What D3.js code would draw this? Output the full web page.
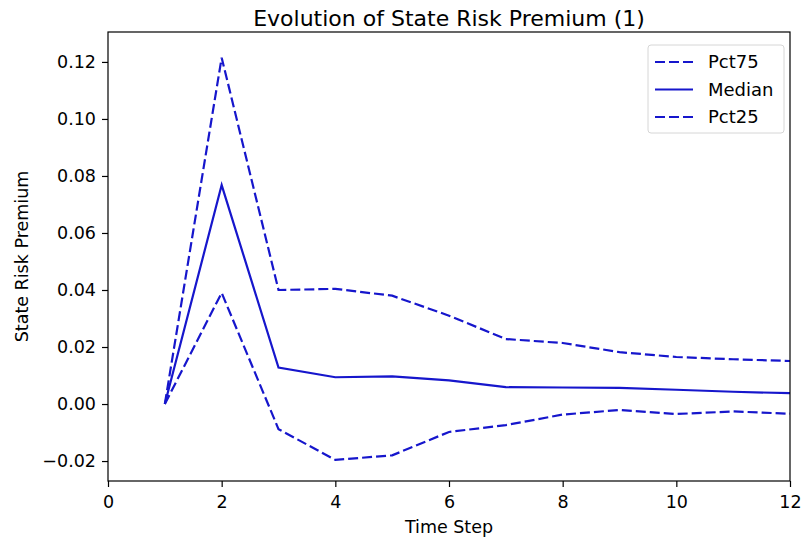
<!DOCTYPE html>
<html>
<head>
  <meta charset="utf-8">
  <title>State Risk Premium</title>
  <style type="text/css">
    body { margin: 0; background: #fff; }
    svg { font-family: "DejaVu Sans", sans-serif; }
  </style>
</head>
<body>
<div id="chart"></div>
<script src="https://d3js.org/d3.v7.min.js"></script>
<script type="text/javascript">
var steps = [1, 2, 3, 4, 5, 6, 7, 8, 9, 10, 11, 12];
var pct75 = [0, 0.1215, 0.040, 0.0404, 0.038, 0.031, 0.0228, 0.0214, 0.0182, 0.0165, 0.0157, 0.0151];
var median = [0, 0.0768, 0.0128, 0.0094, 0.0097, 0.0083, 0.0059, 0.0058, 0.0057, 0.0050, 0.0043, 0.0038];
var pct25 = [0, 0.039, -0.0088, -0.0196, -0.018, -0.0098, -0.0074, -0.0037, -0.0021, -0.0035, -0.0026, -0.0034];
var xTicks = [0, 2, 4, 6, 8, 10, 12];
var yTicks = [-0.02, 0.00, 0.02, 0.04, 0.06, 0.08, 0.10, 0.12];

var width = 801, height = 541;
var margin = {top: 32, right: 11, bottom: 60, left: 108};
var color = "#1616cc";

var svg = d3.select("#chart")
  .append("svg")
    .attr("width", width)
    .attr("height", height);

var x = d3.scaleLinear().domain([0, 12]).range([margin.left, width - margin.right]);
var y = d3.scaleLinear().domain([-0.027, 0.1305]).range([height - margin.bottom, margin.top]);

var series = [
  {name: "Pct75", values: pct75, dash: "10,4"},
  {name: "Median", values: median, dash: null},
  {name: "Pct25", values: pct25, dash: "10,4"}
];

var line = d3.line()
  .x(function (d, i) { return x(steps[i]); })
  .y(function (d) { return y(d); });

svg.append("g")
  .selectAll("path")
  .data(series)
  .enter()
  .append("path")
    .attr("d", function (d) { return line(d.values); })
    .attr("fill", "none")
    .attr("stroke", color)
    .attr("stroke-width", 2.2)
    .attr("stroke-dasharray", function (d) { return d.dash; });

// axes
var xAxis = svg.append("g")
  .attr("transform", "translate(0," + (height - margin.bottom) + ")")
  .call(d3.axisBottom(x).tickValues(xTicks).tickSize(6).tickPadding(9).tickFormat(d3.format("d")));
var yAxis = svg.append("g")
  .attr("transform", "translate(" + margin.left + ",0)")
  .call(d3.axisLeft(y).tickValues(yTicks).tickSize(6).tickPadding(6).tickFormat(function (d) {
    return d3.format(".2f")(d).replace("-", "\u2212");
  }));

[xAxis, yAxis].forEach(function (a) {
  a.select(".domain").remove();
  a.selectAll("text").attr("font-size", 17.5).attr("fill", "#000").attr("font-family", "DejaVu Sans, sans-serif");
  a.selectAll("line").attr("stroke", "#000").attr("stroke-width", 1.2);
});

// frame
svg.append("rect")
  .attr("x", margin.left)
  .attr("y", margin.top)
  .attr("width", width - margin.left - margin.right)
  .attr("height", height - margin.top - margin.bottom)
  .attr("fill", "none")
  .attr("stroke", "#000")
  .attr("stroke-width", 1.2);

// labels
svg.append("text")
  .attr("x", (margin.left + width - margin.right) / 2)
  .attr("y", 26)
  .attr("text-anchor", "middle")
  .attr("font-size", 22)
  .text("Evolution of State Risk Premium (1)");

svg.append("text")
  .attr("x", (margin.left + width - margin.right) / 2)
  .attr("y", 533)
  .attr("text-anchor", "middle")
  .attr("font-size", 17.5)
  .text("Time Step");

svg.append("text")
  .attr("transform", "translate(28," + ((margin.top + height - margin.bottom) / 2) + ")rotate(-90)")
  .attr("text-anchor", "middle")
  .attr("font-size", 17.5)
  .text("State Risk Premium");

// legend
var legend = svg.append("g").attr("transform", "translate(648,45)");
legend.append("rect")
  .attr("width", 136)
  .attr("height", 88)
  .attr("rx", 3)
  .attr("fill", "#fff")
  .attr("fill-opacity", 0.8)
  .attr("stroke", "#d6d6d6");

var item = legend.selectAll("g.item")
  .data(series)
  .enter()
  .append("g")
    .attr("class", "item")
    .attr("transform", function (d, i) { return "translate(0," + (17 + i * 27.5) + ")"; });
item.append("line")
  .attr("x1", 7).attr("x2", 45)
  .attr("stroke", color)
  .attr("stroke-width", 2.2)
  .attr("stroke-dasharray", function (d) { return d.dash; });
item.append("text")
  .attr("x", 60)
  .attr("dy", "0.35em")
  .attr("font-size", 18)
  .text(function (d) { return d.name; });
</script>
</body>
</html>
